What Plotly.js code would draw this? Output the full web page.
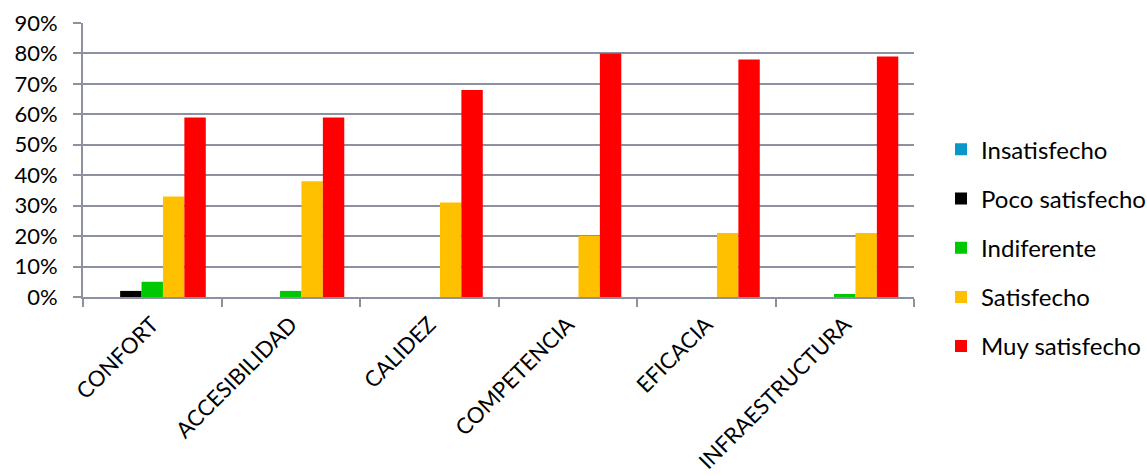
<!DOCTYPE html>
<html>
<head>
<meta charset="utf-8">
<script src="https://cdn.plot.ly/plotly-3.0.1.min.js"></script>
<style>
html,body{margin:0;padding:0;background:#fff;}
#chart{width:1147px;height:476px;}
</style>
</head>
<body>
<div id="chart"></div>
<script>
var categories = ["CONFORT", "ACCESIBILIDAD", "CALIDEZ", "COMPETENCIA", "EFICACIA", "INFRAESTRUCTURA"];
var seriesNames = ["Insatisfecho", "Poco satisfecho", "Indiferente", "Satisfecho", "Muy satisfecho"];
var insatisfecho = [0, 0, 0, 0, 0, 0];
var pocoSatisfecho = [0.02, 0, 0, 0, 0, 0];
var indiferente = [0.05, 0.02, 0, 0, 0, 0.01];
var satisfecho = [0.33, 0.38, 0.31, 0.20, 0.21, 0.21];
var muySatisfecho = [0.59, 0.59, 0.68, 0.80, 0.78, 0.79];
var yTickVals = [0, 0.1, 0.2, 0.3, 0.4, 0.5, 0.6, 0.7, 0.8, 0.9];

var seriesValues = [insatisfecho, pocoSatisfecho, indiferente, satisfecho, muySatisfecho];
var colors = ["#0A96C8", "#000000", "#00C800", "#FFC000", "#FF0000"];

var traces = seriesValues.map(function (vals, i) {
  return {
    type: "bar",
    name: seriesNames[i],
    x: categories,
    y: vals,
    legendgroup: "g" + i,
    marker: { color: colors[i], line: { width: 0 } },
    hoverinfo: "x+y+name"
  };
});

var gridColor = "#8C90A0";
var layout = {
  width: 1147,
  height: 476,
  margin: { l: 83, r: 233, t: 23, b: 179, autoexpand: false },
  paper_bgcolor: "#ffffff",
  plot_bgcolor: "#ffffff",
  font: { family: "Lato, 'Open Sans', sans-serif", size: 23, color: "#000000" },
  barmode: "group",
  bargap: 0.227,
  bargroupgap: 0,
  showlegend: true,
  legend: {
    x: 1.0325,
    xanchor: "left",
    y: 0.18,
    yanchor: "middle",
    font: { size: 24, color: "#000000" },
    tracegroupgap: 15,
    bgcolor: "rgba(0,0,0,0)"
  },
  xaxis: {
    type: "category",
    tickson: "boundaries",
    ticks: "outside",
    ticklen: 8,
    tickwidth: 2,
    tickcolor: gridColor,
    showline: true,
    linecolor: gridColor,
    linewidth: 2,
    showgrid: false,
    tickangle: -45,
    ticklabelstandoff: 4,
    tickfont: { size: 22 },
    automargin: false
  },
  yaxis: {
    range: [0, 0.9],
    tickvals: yTickVals,
    tickformat: ".0%",
    ticks: "outside",
    ticklen: 8,
    tickwidth: 2,
    tickcolor: gridColor,
    showline: true,
    linecolor: gridColor,
    linewidth: 2,
    showgrid: true,
    gridcolor: gridColor,
    gridwidth: 2,
    zeroline: false,
    ticklabelstandoff: 11,
    tickfont: { size: 22 },
    automargin: false
  }
};

Plotly.newPlot("chart", traces, layout, { displayModeBar: false, staticPlot: true });
</script>
</body>
</html>
